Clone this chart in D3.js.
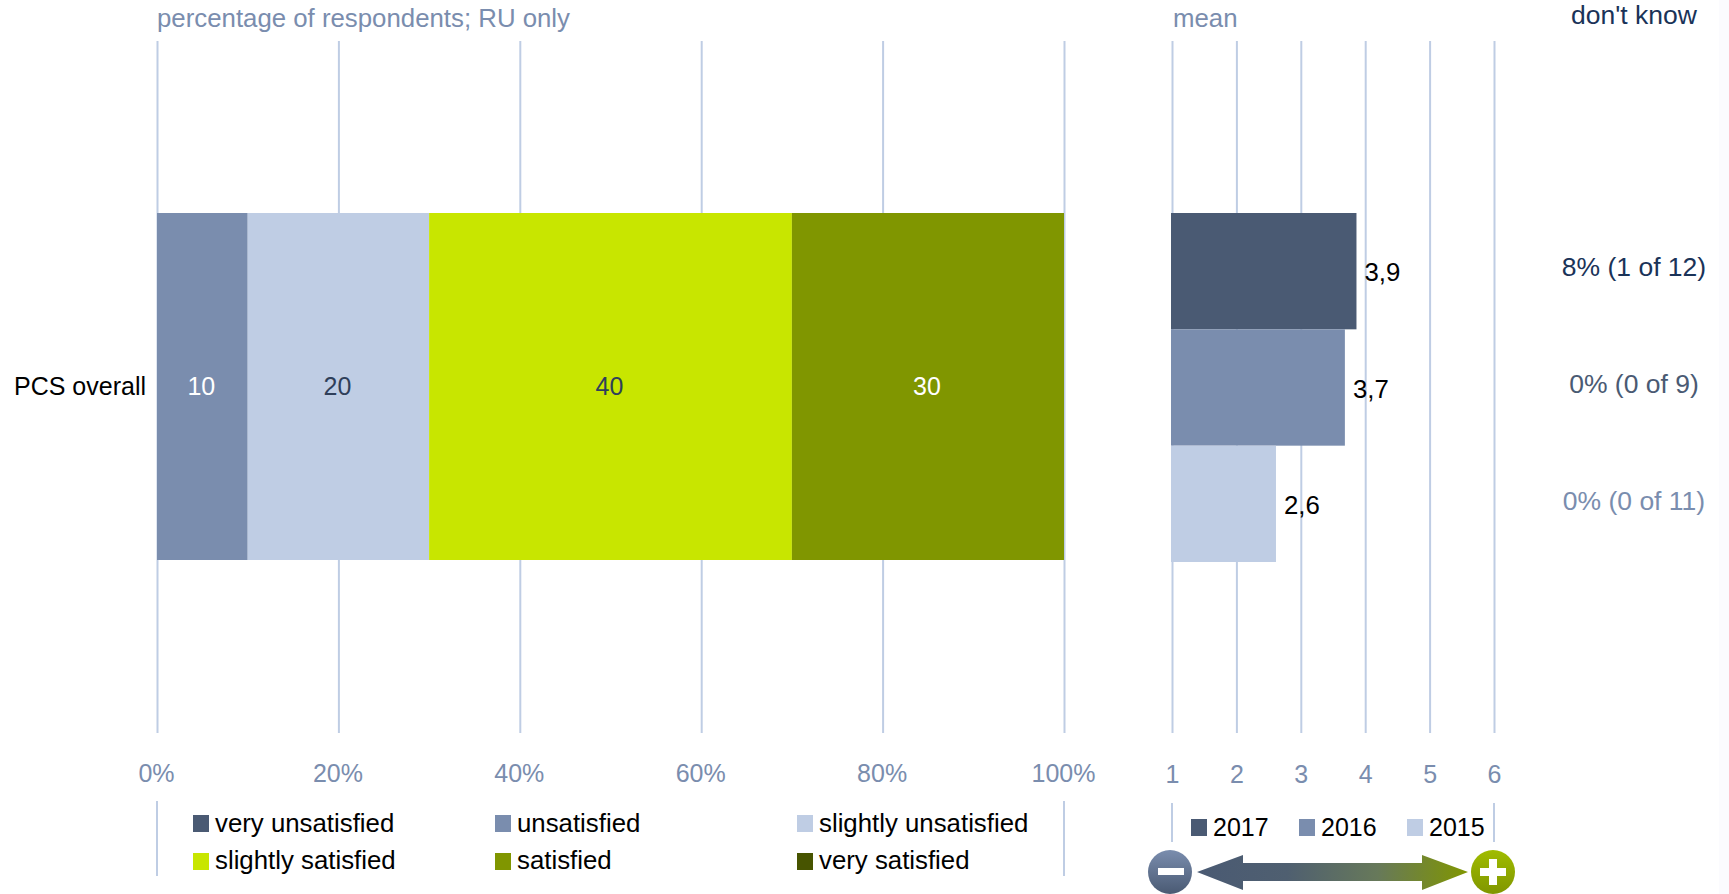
<!DOCTYPE html>
<html>
<head>
<meta charset="UTF-8">
<title>PCS overall</title>
<script src="https://cdn.jsdelivr.net/npm/d3@7"></script>
<style>
  html, body { margin: 0; padding: 0; background: #fff; }
  svg { display: block; }
  text { font-family: "Liberation Sans", Arial, sans-serif; font-size: 25.8px; }
  .axis path { display: none; }
  .axis line { stroke: #bfcde4; stroke-width: 2px; }
  .axis text { fill: #7a8dae; font-size: 25px; }
  .seg, .side, .yr { font-size: 25px; }
  .dk { font-size: 26.5px; }
</style>
</head>
<body>
<script>
// data
var categories = ["very unsatisfied", "unsatisfied", "slightly unsatisfied", "slightly satisfied", "satisfied", "very satisfied"];
var catColors = ["#4a5a73", "#7a8dae", "#bfcde4", "#c8e600", "#809600", "#475400"];
var catValues = [0, 10, 20, 40, 30, 0];
var catLabelColors = ["#fff", "#fff", "#2f3f5a", "#2f3f5a", "#fff", "#fff"];

var years = ["2017", "2016", "2015"];
var yearColors = ["#4a5a73", "#7a8dae", "#bfcde4"];
var means = [3.88, 3.7, 2.63];

var dontKnow = ["8% (1 of 12)", "0% (0 of 9)", "0% (0 of 11)"];
var dontKnowColors = ["#1a3358", "#4a5a73", "#7a8dae"];

var pctTicks = [0, 20, 40, 60, 80, 100];
var meanTicks = [1, 2, 3, 4, 5, 6];

var svg = d3.select("body").append("svg").attr("width", 1729).attr("height", 894);

var gridTop = 41, gridBottom = 733;
var x = d3.scaleLinear().domain([0, 100]).range([157, 1064]);
var m = d3.scaleLinear().domain([1, 6]).range([1172, 1494]);
var yStack = d3.scaleBand().domain(["PCS overall"]).range([213, 560]);
var yMean = d3.scaleBand().domain(years).range([213, 562]);
var yDk = d3.scalePoint().domain(years).range([276, 510]);

// faint tint along the right edge
svg.append("rect").attr("x", 1719).attr("y", 0).attr("width", 10).attr("height", 894).attr("fill", "#fbfbfe");

// axes with the gridlines
svg.append("g").attr("class", "axis").attr("transform", "translate(0," + gridBottom + ")")
  .call(d3.axisBottom(x).tickValues(pctTicks).tickFormat(function(d){ return d + "%"; })
    .tickSize(-(gridBottom - gridTop)).tickPadding(0))
  .selectAll("text").attr("x", -1).attr("y", 49).attr("dy", 0);

svg.append("g").attr("class", "axis").attr("transform", "translate(0," + gridBottom + ")")
  .call(d3.axisBottom(m).tickValues(meanTicks).tickFormat(d3.format("d"))
    .tickSize(-(gridBottom - gridTop)).tickPadding(0))
  .selectAll("text").attr("y", 50).attr("dy", 0);

// headers
svg.append("text").attr("x", 157).attr("y", 27).attr("fill", "#7a8dae").text("percentage of respondents; RU only");
svg.append("text").attr("x", 1173).attr("y", 27).attr("fill", "#7a8dae").text("mean");
svg.append("text").attr("class", "dk").attr("x", 1634).attr("y", 24).attr("text-anchor", "middle").attr("fill", "#1a3358").text("don't know");

// stacked bar
var running = 0;
var stack = categories.map(function(c, i){
  var s = {name: c, color: catColors[i], label: catLabelColors[i], value: catValues[i], start: running};
  running += catValues[i];
  return s;
}).filter(function(d){ return d.value > 0; });

svg.append("g").selectAll("rect").data(stack).join("rect")
  .attr("x", function(d){ return x(d.start); })
  .attr("y", yStack("PCS overall"))
  .attr("width", function(d){ return x(d.start + d.value) - x(d.start); })
  .attr("height", yStack.bandwidth())
  .attr("fill", function(d){ return d.color; });

svg.append("g").selectAll("text").data(stack).join("text")
  .attr("class", "seg")
  .attr("x", function(d){ return x(d.start + d.value / 2) - 1; })
  .attr("y", 395)
  .attr("text-anchor", "middle")
  .attr("fill", function(d){ return d.label; })
  .text(function(d){ return d.value; });

svg.append("text").attr("class", "side").attr("x", 146).attr("y", 395).attr("text-anchor", "end").attr("fill", "#000").text("PCS overall");

// mean bars
svg.append("g").selectAll("rect").data(years).join("rect")
  .attr("x", m(1) - 1)
  .attr("y", function(d){ return yMean(d); })
  .attr("width", function(d, i){ return m(means[i]) - m(1); })
  .attr("height", yMean.bandwidth())
  .attr("fill", function(d, i){ return yearColors[i]; });

svg.append("g").selectAll("text").data(years).join("text")
  .attr("x", function(d, i){ return m(means[i]) + 7; })
  .attr("y", function(d){ return yMean(d) + yMean.bandwidth() / 2 + 10; })
  .attr("fill", "#000")
  .text(function(d, i){ return means[i].toFixed(1).replace(".", ","); });

// don't know column
svg.append("g").selectAll("text").data(dontKnow).join("text")
  .attr("class", "dk")
  .attr("x", 1634)
  .attr("y", function(d, i){ return yDk(years[i]); })
  .attr("text-anchor", "middle")
  .attr("fill", function(d, i){ return dontKnowColors[i]; })
  .text(function(d){ return d; });

// legend left
var legendX = [193, 495, 797], legendY = [815, 853], legendBase = [832, 869];
var leg = svg.append("g");
leg.selectAll("rect").data(categories).join("rect")
  .attr("x", function(d, i){ return legendX[i % 3]; })
  .attr("y", function(d, i){ return legendY[Math.floor(i / 3)]; })
  .attr("width", 16).attr("height", 17)
  .attr("fill", function(d, i){ return catColors[i]; });
leg.selectAll("text").data(categories).join("text")
  .attr("x", function(d, i){ return legendX[i % 3] + 22; })
  .attr("y", function(d, i){ return legendBase[Math.floor(i / 3)]; })
  .attr("fill", "#000")
  .text(function(d){ return d; });

// legend right
var yearLegendX = [1191, 1299, 1407];
var leg2 = svg.append("g");
leg2.selectAll("rect").data(years).join("rect")
  .attr("x", function(d, i){ return yearLegendX[i]; })
  .attr("y", 819).attr("width", 16).attr("height", 17)
  .attr("fill", function(d, i){ return yearColors[i]; });
leg2.selectAll("text").data(years).join("text")
  .attr("class", "yr")
  .attr("x", function(d, i){ return yearLegendX[i] + 22; })
  .attr("y", 836).attr("fill", "#000")
  .text(function(d){ return d; });

// legend dividers
svg.append("g").selectAll("line").data([[x(0), 801, 876], [x(100), 801, 876], [m(1), 803, 842], [m(6), 803, 842]]).join("line")
  .attr("x1", function(d){ return d[0]; }).attr("x2", function(d){ return d[0]; })
  .attr("y1", function(d){ return d[1]; }).attr("y2", function(d){ return d[2]; })
  .attr("stroke", "#bfcde4").attr("stroke-width", 2);

// minus / plus scale
var defs = svg.append("defs");
function grad(id, x2, y2, stops){
  var g = defs.append("linearGradient").attr("id", id).attr("x1", 0).attr("y1", 0).attr("x2", x2).attr("y2", y2);
  stops.forEach(function(s, i){ g.append("stop").attr("offset", i / (stops.length - 1)).attr("stop-color", s); });
}
grad("arrowGrad", 1, 0, ["#4a5a73", "#4f5f70", "#67795a", "#809600"]);
grad("minusGrad", 0, 1, ["#7a8dae", "#4a5a73"]);
grad("plusGrad", 0, 1, ["#a0bc00", "#809600"]);

svg.append("path")
  .attr("d", "M1197,872L1243,855V863H1422V855L1468,872L1422,890V881H1243V890Z")
  .attr("fill", "url(#arrowGrad)");

svg.append("circle").attr("cx", 1170).attr("cy", 872).attr("r", 22).attr("fill", "url(#minusGrad)");
svg.append("rect").attr("x", 1158).attr("y", 868).attr("width", 26).attr("height", 7).attr("fill", "#fff");

svg.append("circle").attr("cx", 1493).attr("cy", 872).attr("r", 22).attr("fill", "url(#plusGrad)");
svg.append("path").attr("d", "M1489,859H1497V868H1506V876H1497V885H1489V876H1480V868H1489Z").attr("fill", "#fff");
</script>
</body>
</html>
